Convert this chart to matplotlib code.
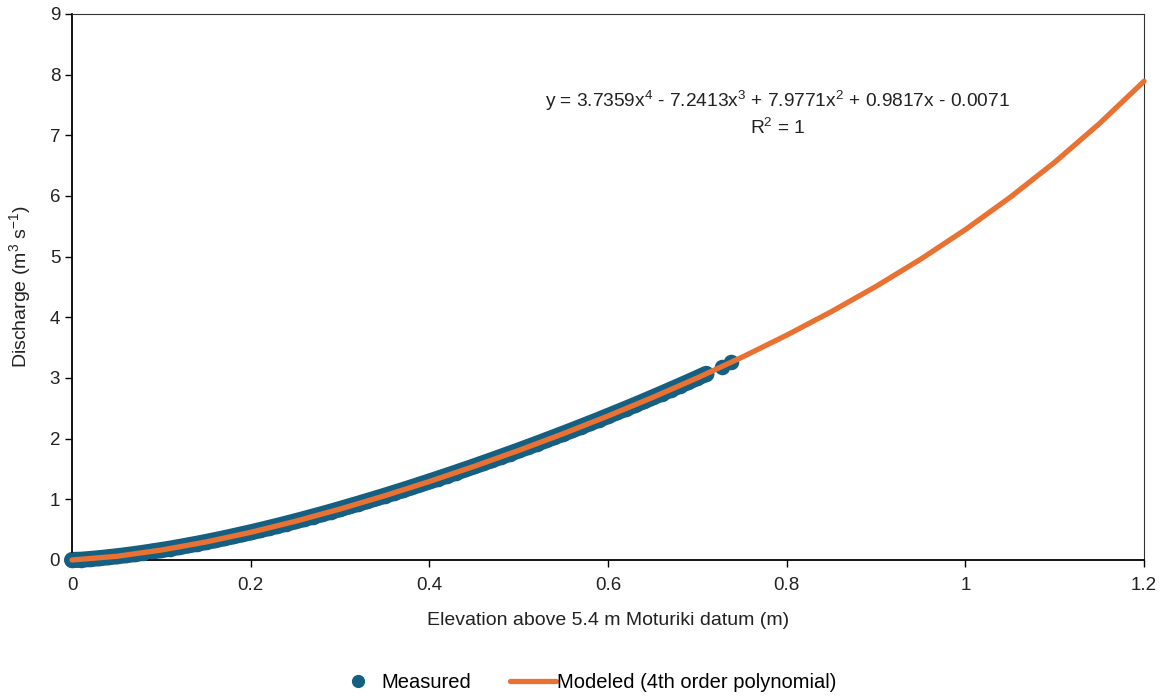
import matplotlib
matplotlib.use("Agg")
import matplotlib.pyplot as plt

plt.rcParams["font.family"] = ["Liberation Sans", "DejaVu Sans"]
plt.rcParams["mathtext.fontset"] = "custom"
plt.rcParams["mathtext.rm"] = "Liberation Sans"
plt.rcParams["mathtext.it"] = "Liberation Sans"

# measured stage-discharge points (elevation m, discharge m3/s)
measured_x = [0.00, 0.01, 0.02, 0.03, 0.04, 0.05, 0.06, 0.07, 0.08, 0.09,
              0.10, 0.11, 0.12, 0.13, 0.14, 0.15, 0.16, 0.17, 0.18, 0.19,
              0.20, 0.21, 0.22, 0.23, 0.24, 0.25, 0.26, 0.27, 0.28, 0.29,
              0.30, 0.31, 0.32, 0.33, 0.34, 0.35, 0.36, 0.37, 0.38, 0.39,
              0.40, 0.41, 0.42, 0.43, 0.44, 0.45, 0.46, 0.47, 0.48, 0.49,
              0.50, 0.51, 0.52, 0.53, 0.54, 0.55, 0.56, 0.57, 0.58, 0.59,
              0.60, 0.61, 0.62, 0.63, 0.64, 0.65, 0.66, 0.67, 0.68, 0.69,
              0.70, 0.71, 0.727, 0.738]
measured_y = [0.000, 0.004, 0.016, 0.029, 0.045, 0.061, 0.079, 0.098, 0.119, 0.141,
              0.164, 0.188, 0.214, 0.241, 0.268, 0.297, 0.327, 0.358, 0.390, 0.423,
              0.456, 0.491, 0.527, 0.563, 0.600, 0.638, 0.677, 0.717, 0.757, 0.798,
              0.840, 0.883, 0.926, 0.970, 1.014, 1.059, 1.105, 1.151, 1.198, 1.246,
              1.294, 1.343, 1.392, 1.442, 1.492, 1.543, 1.595, 1.647, 1.700, 1.753,
              1.806, 1.861, 1.915, 1.971, 2.027, 2.083, 2.140, 2.198, 2.256, 2.314,
              2.374, 2.434, 2.494, 2.555, 2.617, 2.680, 2.743, 2.807, 2.871, 2.936,
              3.002, 3.069, 3.183, 3.260]

# modeled curve (4th order polynomial trendline)
model_x = [0.00, 0.05, 0.10, 0.15, 0.20, 0.25, 0.30, 0.35, 0.40, 0.45,
           0.50, 0.55, 0.60, 0.65, 0.70, 0.75, 0.80, 0.85, 0.90, 0.95,
           1.00, 1.05, 1.10, 1.15, 1.20]
model_y = [0.000, 0.061, 0.164, 0.297, 0.456, 0.638, 0.840, 1.059, 1.294, 1.543,
           1.806, 2.083, 2.374, 2.680, 3.002, 3.343, 3.706, 4.094, 4.510, 4.959,
           5.446, 5.977, 6.557, 7.193, 7.892]

eq_text = "y = 3.7359x$^4$ - 7.2413x$^3$ + 7.9771x$^2$ + 0.9817x - 0.0071"
r2_text = "R$^2$ = 1"

blue = "#156082"
orange = "#E97132"
txt = "#222222"

fig = plt.figure(figsize=(11.71, 7.0), dpi=100)
ax = fig.add_axes([0.0615, 0.2, 0.9155, 0.78])

# dense run of markers reads as a solid band; a same-width line smooths the edge
ax.plot(measured_x[:-2], measured_y[:-2], "-", color=blue, linewidth=11.6,
        solid_capstyle="round", clip_on=False, zorder=2)
ax.plot(measured_x, measured_y, "o", color=blue, markersize=11.2,
        markeredgewidth=0, clip_on=False, zorder=3, label="Measured")
ax.plot(model_x, model_y, "-", color=orange, linewidth=3.8,
        solid_capstyle="round", clip_on=False, zorder=4,
        label="Modeled (4th order polynomial)")

ax.set_xlim(0, 1.2)
ax.set_ylim(0, 9)
ax.set_xticks([0, 0.2, 0.4, 0.6, 0.8, 1.0, 1.2])
ax.set_xticklabels(["0", "0.2", "0.4", "0.6", "0.8", "1", "1.2"])
ax.set_yticks(range(0, 10))
ax.tick_params(axis="both", labelsize=13.5, direction="out", length=5,
               width=1, colors="black", labelcolor=txt)
ax.tick_params(axis="x", pad=7)

for side in ["left", "bottom"]:
    ax.spines[side].set_color("black")
    ax.spines[side].set_linewidth(1.3)
for side in ["top", "right"]:
    ax.spines[side].set_color("#333333")
    ax.spines[side].set_linewidth(0.8)

ax.set_xlabel("Elevation above 5.4 m Moturiki datum (m)", fontsize=14,
              labelpad=13, color=txt)
ax.set_ylabel("Discharge (m$^3$ s$^{-1}$)", fontsize=14, labelpad=12,
              color=txt)

ax.text(0.79, 7.56, eq_text, ha="center", va="center", fontsize=13.8,
        color=txt)
ax.text(0.79, 7.12, r2_text, ha="center", va="center", fontsize=13.8,
        color=txt)

handles, labels = ax.get_legend_handles_labels()
fig.legend(handles, labels, loc="center", bbox_to_anchor=(0.5, 0.025),
           ncol=2, frameon=False, fontsize=14.5, handlelength=2.3,
           handletextpad=0.05, columnspacing=1.9, markerscale=0.85)

fig.savefig("out.png", dpi=100)
